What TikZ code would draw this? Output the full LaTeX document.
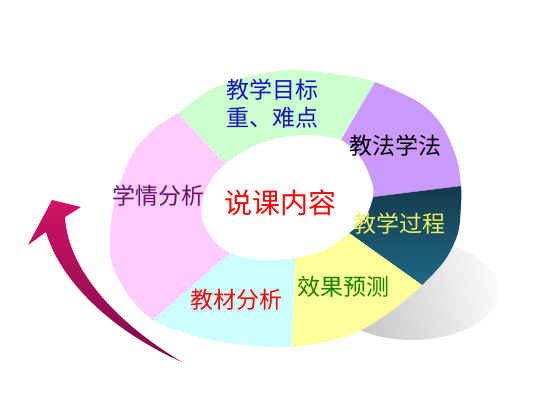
\documentclass[tikz,border=0pt]{standalone}
\usepackage{fontspec}
\newfontfamily\cjk{Noto Sans CJK SC}
\usetikzlibrary{calc}

\definecolor{ringpink}{HTML}{FFCCFF}
\definecolor{ringgreen}{HTML}{CCFFCC}
\definecolor{ringviolet}{HTML}{CC99FF}
\definecolor{ringyellow}{HTML}{FFFF99}
\definecolor{ringcyan}{HTML}{CCFFFF}
\definecolor{tealtop}{HTML}{143748}
\definecolor{tealbot}{HTML}{1F6E8C}
\definecolor{txtblue}{HTML}{1414BE}
\definecolor{txtpurple}{HTML}{641464}
\definecolor{txtyellow}{HTML}{EBF05A}
\definecolor{txtgreen}{HTML}{148200}
\definecolor{arrowtop}{HTML}{D21264}
\definecolor{arrowbot}{HTML}{7D0A4B}

\begin{document}
\begin{tikzpicture}[
    x=1pt, y=-1pt,
    lbl/.style={font=\cjk\fontsize{23}{28}\selectfont, inner sep=0pt, align=center},
    title/.style={font=\cjk\fontsize{28}{32}\selectfont, inner sep=0pt, text=red}
]
    \useasboundingbox (0,0) rectangle (533,400);

    % --- Shadow under the ring ---
    \shade[top color=gray!5, bottom color=gray!50, shading angle=-75]
        (412,290) ellipse [x radius=87, y radius=50];

    % --- Sector borders (inner end, outer end) ---
    \coordinate (c) at (286,198);
    \coordinate (i1) at (225,164); \coordinate (o1) at (178,113);
    \coordinate (i2) at (341,140); \coordinate (o2) at (375,82);
    \coordinate (i3) at (373,197); \coordinate (o3) at (461,186);
    \coordinate (i4) at (349,233); \coordinate (o4) at (422,285);
    \coordinate (i5) at (295,258); \coordinate (o5) at (292,347);
    \coordinate (i6) at (230,253); \coordinate (o6) at (153,320);

    % --- Ring ---
    \begin{scope}
        \clip plot[smooth cycle] coordinates {(293,70) (343,75) (375,82)
            (420,103) (443,127) (457,160) (461,186) (461,205) (458,233)
            (445,260) (422,285) (390,312) (350,335) (292,347) (228,343)
            (185,333) (153,320) (132,300) (115,272) (110,250) (112,215)
            (120,183) (135,150) (155,128) (178,113) (210,90) (250,76)};
        \fill[ringgreen] (c) -- (i1) -- ($(i1)!5!(o1)$) -- ($(i2)!5!(o2)$) -- (i2) -- cycle;
        \fill[ringviolet] (c) -- (i2) -- ($(i2)!5!(o2)$) -- ($(i3)!5!(o3)$) -- (i3) -- cycle;
        \begin{scope}
            \clip (c) -- (i3) -- ($(i3)!5!(o3)$) -- ($(i4)!5!(o4)$) -- (i4) -- cycle;
            \shade[top color=tealtop, bottom color=tealbot] (330,180) rectangle (470,295);
        \end{scope}
        \fill[ringyellow] (c) -- (i4) -- ($(i4)!5!(o4)$) -- ($(i5)!5!(o5)$) -- (i5) -- cycle;
        \fill[ringcyan] (c) -- (i5) -- ($(i5)!5!(o5)$) -- ($(i6)!5!(o6)$) -- (i6) -- cycle;
        \fill[ringpink] (c) -- (i6) -- ($(i6)!5!(o6)$) -- ($(i1)!5!(o1)$) -- (i1) -- cycle;
        \fill[white] plot[smooth cycle] coordinates {(305,135) (341,140)
            (362,160) (372,183) (373,197) (365,218) (349,233) (325,250)
            (295,258) (262,260) (230,253) (212,238) (202,217) (204,195)
            (213,177) (225,164) (250,148) (275,139)};
    \end{scope}

    % --- Curved arrow ---
    \coordinate (tip) at (52,200);
    \coordinate (rb) at (81,207);
    \coordinate (rn) at (65,217);
    \coordinate (tail) at (182,362);
    \coordinate (ln) at (46,232);
    \coordinate (lb) at (28,245);
    \shade[top color=arrowtop, bottom color=arrowbot]
        (tip) -- (rb) -- (rn) .. controls (68,272) and (120,325) .. (tail)
        .. controls (110,330) and (60,280) .. (ln) -- (lb) -- cycle;

    % --- Labels ---
    \node[lbl, text=txtblue] (goal) at (272.5,104) {教学目标\\重、难点};
    \node[lbl, text=black] (method) at (395.5,146) {教法学法};
    \node[lbl, text=txtpurple] (learner) at (158,196) {学情分析};
    \node[title] (content) at (280,203) {说课内容};
    \node[lbl, text=txtyellow] (process) at (399.5,224) {教学过程};
    \node[lbl, text=txtgreen] (effect) at (343,287) {效果预测};
    \node[lbl, text=red] (material) at (236.5,300) {教材分析};

\end{tikzpicture}
\end{document}
